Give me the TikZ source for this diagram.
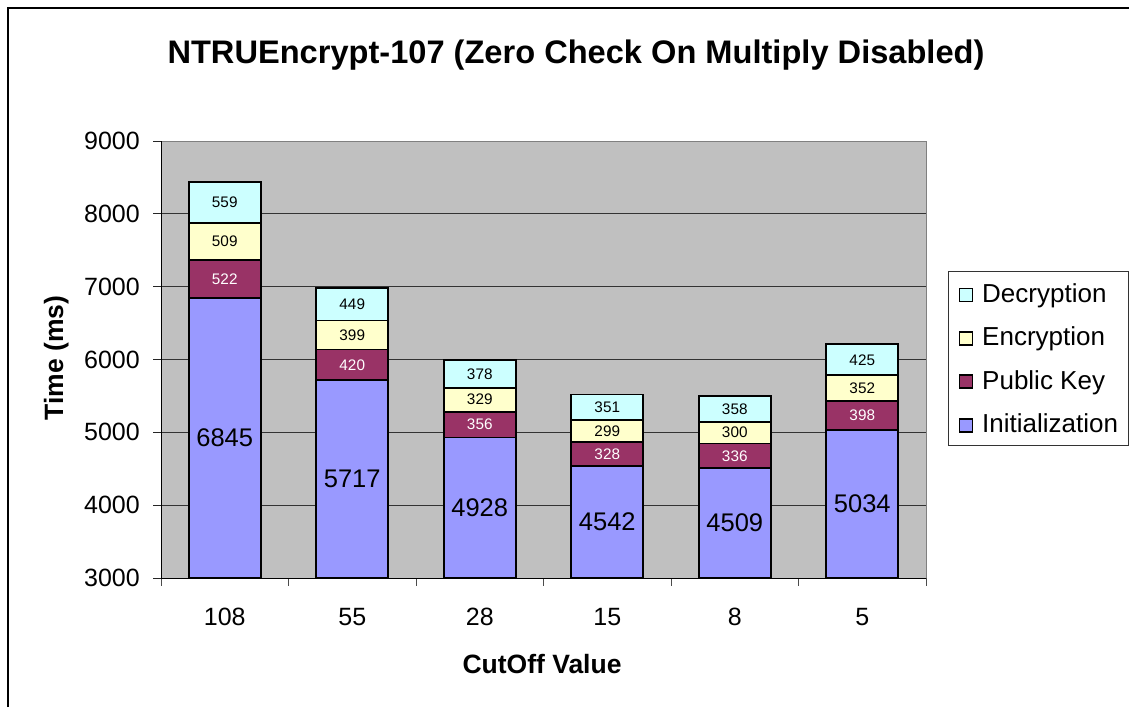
\documentclass[tikz,border=0pt]{standalone}
\usepackage{fontspec}
\setmainfont{Liberation Sans}
\definecolor{decr}{HTML}{CCFFFF}
\definecolor{encr}{HTML}{FFFFCC}
\definecolor{pubk}{HTML}{993366}
\definecolor{init}{HTML}{9999FF}
\definecolor{plotbg}{HTML}{C0C0C0}
\definecolor{frame}{HTML}{808080}
\begin{document}
\begin{tikzpicture}[x=1pt,y=-1pt,
  ticklab/.style={font=\fontsize{25}{30}\selectfont, inner sep=0pt},
  smalllab/.style={font=\fontsize{15.3}{18}\selectfont, inner sep=0pt},
  biglab/.style={font=\fontsize{25.5}{30}\selectfont, inner sep=0pt},
  axtitle/.style={font=\bfseries\fontsize{26.5}{30}\selectfont, inner sep=0pt},
  barpart/.style={draw=black, line width=1.7pt},
  keybox/.style={draw=black, line width=1.2pt, minimum size=13pt, inner sep=0pt},
  keytext/.style={font=\fontsize{26}{30}\selectfont, inner sep=0pt, anchor=base west}]
\useasboundingbox (0,0) rectangle (1129,707);
\fill[white] (0,0) rectangle (1129,707);
% outer chart frame
\draw[line width=1.2pt] (8,707) -- (8,8) -- (1129,8);

% title
\node[font=\bfseries\fontsize{32.6}{38}\selectfont, inner sep=0pt, anchor=base] (title) at (576,63) {NTRUEncrypt-107 (Zero Check On Multiply Disabled)};

% plot area
\fill[plotbg] (161,141) rectangle (926,578);
\draw[frame, line width=1pt] (161,141) -- (926,141) -- (926,578);
% gridlines with y ticks and labels
\foreach \v in {3000,4000,...,9000}{
  \pgfmathsetmacro{\yy}{578-(\v-3000)*0.07283}
  \draw[black!85, line width=0.9pt] (153,\yy) -- (161,\yy);
  \node[ticklab, anchor=east] (ylab\v) at (140,\yy) {\v};
}
\foreach \v in {4000,5000,...,8000}{
  \pgfmathsetmacro{\yy}{578-(\v-3000)*0.07283}
  \draw[black!80, line width=0.9pt] (161,\yy) -- (926,\yy);
}
% category ticks
\foreach \k in {0,...,6}{
  \draw[black!70, line width=1pt] (161+\k*127.5,578) -- (161+\k*127.5,586);
}

% stacked bars
\foreach \k/\lab/\a/\b/\c/\d in {0/108/6845/522/509/559, 1/55/5717/420/399/449, 2/28/4928/356/329/378, 3/15/4542/328/299/351, 4/8/4509/336/300/358, 5/5/5034/398/352/425}{
  \pgfmathsetmacro{\xc}{161+(\k+0.5)*127.5}
  \pgfmathsetmacro{\xl}{\xc-36}
  \pgfmathsetmacro{\xr}{\xc+36}
  \pgfmathsetmacro{\ya}{578-(\a-3000)*0.07283}
  \pgfmathsetmacro{\yb}{578-(\a+\b-3000)*0.07283}
  \pgfmathsetmacro{\yc}{578-(\a+\b+\c-3000)*0.07283}
  \pgfmathsetmacro{\yd}{578-(\a+\b+\c+\d-3000)*0.07283}
  \filldraw[barpart, fill=init] (\xl,578) rectangle (\xr,\ya);
  \filldraw[barpart, fill=pubk] (\xl,\ya) rectangle (\xr,\yb);
  \filldraw[barpart, fill=encr] (\xl,\yb) rectangle (\xr,\yc);
  \filldraw[barpart, fill=decr] (\xl,\yc) rectangle (\xr,\yd);
  \node[biglab] (init\lab) at (\xc,{(578+\ya)/2}) {\a};
  \node[smalllab, text=white] (pubk\lab) at (\xc,{(\ya+\yb)/2}) {\b};
  \node[smalllab] (encr\lab) at (\xc,{(\yb+\yc)/2}) {\c};
  \node[smalllab] (decr\lab) at (\xc,{(\yc+\yd)/2}) {\d};
  \node[ticklab, anchor=base] (cat\lab) at (\xc,625) {\lab};
}
% axis lines
\draw[black, line width=1pt] (161,141) -- (161,578) -- (926,578);

% axis titles
\node[axtitle, anchor=base] (xtitle) at (542,673) {CutOff Value};
\node[axtitle, anchor=base, rotate=90] (ytitle) at (63,358) {Time (ms)};

% legend
\draw[black!80, line width=1pt, fill=white] (948,271) rectangle (1128.3,445);
\node[keybox, fill=decr] (kdecr) at (966,295) {};
\node[keybox, fill=encr] (kencr) at (966,338.5) {};
\node[keybox, fill=pubk] (kpubk) at (966,381.5) {};
\node[keybox, fill=init] (kinit) at (966,425.5) {};
\node[keytext] (tdecr) at (982,302) {Decryption};
\node[keytext] (tencr) at (982,345.5) {Encryption};
\node[keytext] (tpubk) at (982,389) {Public Key};
\node[keytext] (tinit) at (982,432.5) {Initialization};
\end{tikzpicture}
\end{document}
